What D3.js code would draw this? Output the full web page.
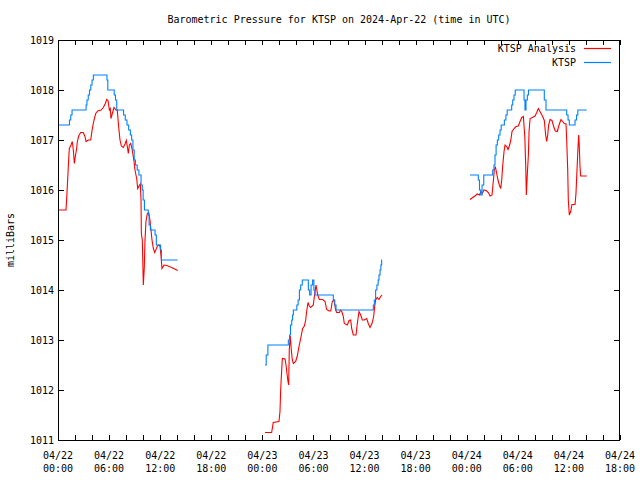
<!DOCTYPE html>
<html><head><meta charset="utf-8">
<script src="https://cdn.jsdelivr.net/npm/d3@7"></script>
<style>
html,body{margin:0;padding:0;background:#fff;}
svg text{font-family:"DejaVu Sans Mono","Liberation Mono",monospace;font-size:10px;fill:#000;}
</style></head>
<body>
<svg id="chart" width="640" height="480"></svg>
<script>
// ---------- data (hours since 2024-04-22 00:00 UTC, millibars) ----------
const titleText = "Barometric Pressure for KTSP on 2024-Apr-22 (time in UTC)";
const yLabel = "milliBars";
const seriesNames = ["KTSP Analysis", "KTSP"];
const yTicks = [1011,1012,1013,1014,1015,1016,1017,1018,1019];

const analysisSeg1 = [[0,1015.6],[0.94,1015.6],[1.02,1015.83],[1.14,1016.23],[1.25,1016.6],[1.33,1016.83],[1.53,1016.9],[1.68,1016.97],[1.8,1016.8],[1.92,1016.53],[2.03,1016.67],[2.19,1016.83],[2.27,1016.97],[2.43,1017.08],[2.66,1017.15],[2.97,1017.15],[3.17,1017.07],[3.29,1016.97],[3.56,1017.0],[3.84,1017.0],[4.03,1017.23],[4.23,1017.4],[4.43,1017.53],[4.66,1017.58],[5.05,1017.6],[5.32,1017.65],[5.56,1017.73],[5.72,1017.81],[5.87,1017.79],[6.03,1017.6],[6.14,1017.63],[6.22,1017.43],[6.38,1017.53],[6.58,1017.65],[6.81,1017.6],[6.96,1017.6],[7.12,1017.27],[7.28,1017.0],[7.44,1016.88],[7.67,1016.85],[7.87,1016.92],[8.02,1016.99],[8.14,1016.87],[8.26,1016.73],[8.38,1016.9],[8.54,1016.93],[8.69,1016.83],[8.81,1016.7],[8.93,1016.57],[9.04,1016.4],[9.24,1016.23],[9.36,1016.03],[9.51,1016.08],[9.67,1016.12],[9.75,1015.8],[9.79,1015.13],[9.9,1015.0],[10.02,1014.1],[10.13,1014.43],[10.22,1015.0],[10.33,1015.37],[10.49,1015.53],[10.65,1015.55],[10.8,1015.4],[10.92,1015.2],[11.04,1015.0],[11.2,1014.83],[11.36,1014.75],[11.51,1014.81],[11.67,1014.88],[11.86,1014.9],[11.98,1014.87],[12.1,1014.68],[12.21,1014.43],[12.45,1014.5],[12.77,1014.49],[13.35,1014.45],[14.06,1014.39]];

const analysisSeg2 = [[24.31,1011.15],[25.09,1011.15],[25.28,1011.35],[25.95,1011.37],[26.07,1011.57],[26.15,1012.0],[26.27,1012.4],[26.35,1012.63],[26.66,1012.62],[26.78,1012.5],[26.89,1012.33],[27.01,1012.17],[27.09,1012.1],[27.16,1012.8],[27.28,1013.08],[27.4,1012.8],[27.52,1012.6],[27.64,1012.53],[27.91,1012.57],[28.1,1012.68],[28.3,1012.87],[28.5,1013.03],[28.73,1013.23],[28.93,1013.28],[29.09,1013.4],[29.2,1013.57],[29.36,1013.75],[29.51,1013.68],[29.67,1013.65],[29.98,1013.7],[30.18,1013.97],[30.3,1014.1],[30.5,1013.9],[30.69,1013.81],[31.08,1013.81],[31.36,1013.77],[31.55,1013.61],[31.83,1013.58],[32.03,1013.58],[32.21,1013.77],[32.41,1013.8],[32.61,1013.6],[32.73,1013.55],[33.04,1013.55],[33.2,1013.6],[33.35,1013.56],[33.51,1013.47],[33.62,1013.33],[33.98,1013.3],[34.18,1013.39],[34.37,1013.4],[34.49,1013.23],[34.68,1013.1],[35.0,1013.1],[35.15,1013.33],[35.35,1013.57],[35.55,1013.5],[35.74,1013.4],[35.97,1013.4],[36.25,1013.43],[36.44,1013.33],[36.64,1013.25],[36.88,1013.33],[37.07,1013.47],[37.19,1013.67],[37.3,1013.8],[37.49,1013.85],[37.69,1013.81],[37.89,1013.87],[38.05,1013.9]];

const analysisSeg3 = [[48.38,1015.81],[48.7,1015.85],[48.97,1015.88],[49.24,1015.92],[49.48,1015.9],[49.68,1015.97],[49.83,1015.93],[50.03,1016.0],[50.27,1015.99],[50.54,1015.95],[50.74,1015.88],[50.97,1015.9],[51.12,1016.17],[51.24,1016.4],[51.36,1016.47],[51.52,1016.33],[51.67,1016.2],[51.83,1016.1],[51.99,1016.03],[52.11,1016.2],[52.22,1016.47],[52.38,1016.77],[52.5,1016.9],[52.7,1016.87],[52.85,1016.81],[53.01,1016.88],[53.17,1016.99],[53.32,1017.17],[53.56,1017.23],[53.79,1017.27],[54.06,1017.28],[54.26,1017.37],[54.46,1017.45],[54.65,1017.47],[54.82,1017.07],[54.93,1016.47],[55.0,1015.9],[55.12,1016.33],[55.24,1016.7],[55.32,1017.17],[55.44,1017.43],[55.7,1017.45],[56.02,1017.48],[56.22,1017.55],[56.41,1017.63],[56.6,1017.57],[56.92,1017.47],[57.11,1017.39],[57.27,1017.1],[57.39,1016.97],[57.51,1017.1],[57.62,1017.3],[57.78,1017.41],[58.01,1017.39],[58.21,1017.27],[58.4,1017.18],[58.64,1017.17],[58.84,1017.3],[59.07,1017.41],[59.27,1017.37],[59.46,1017.33],[59.66,1017.32],[59.74,1017.0],[59.86,1016.4],[59.93,1015.8],[60.05,1015.5],[60.21,1015.57],[60.36,1015.71],[60.72,1015.71],[60.83,1015.93],[60.95,1016.4],[61.07,1016.87],[61.15,1017.1],[61.22,1016.87],[61.3,1016.48],[61.38,1016.28],[62.09,1016.28]];

// observed values (step changes)
const observedSeg1 = [[0,1017.3],[1.35,1017.4],[1.5,1017.5],[1.65,1017.6],[3.3,1017.7],[3.4,1017.8],[3.55,1017.9],[3.7,1018.0],[3.85,1018.1],[4.0,1018.2],[4.15,1018.3],[5.75,1018.2],[5.85,1018.0],[6.6,1017.9],[6.75,1017.8],[6.9,1017.6],[7.7,1017.5],[7.9,1017.4],[8.1,1017.3],[8.3,1017.2],[8.5,1017.1],[8.65,1017.0],[8.8,1016.8],[8.95,1016.6],[9.1,1016.5],[9.3,1016.4],[9.5,1016.3],[9.75,1016.1],[9.9,1016.0],[10.0,1015.8],[10.15,1015.6],[10.6,1015.5],[10.7,1015.3],[10.85,1015.2],[11.4,1015.1],[11.55,1014.9],[12.05,1014.8],[12.15,1014.6],[14.05,1014.6]];

const observedSeg2 = [[24.31,1012.5],[24.45,1012.7],[24.65,1012.9],[27.05,1013.0],[27.2,1013.1],[27.3,1013.3],[27.45,1013.4],[27.55,1013.5],[27.64,1013.6],[28.05,1013.7],[28.2,1013.8],[28.35,1014.0],[28.5,1014.1],[28.69,1014.2],[29.4,1014.0],[29.55,1013.9],[29.72,1014.1],[29.9,1014.2],[30.05,1014.0],[30.18,1013.9],[32.33,1013.8],[32.5,1013.7],[32.65,1013.6],[37.03,1013.7],[37.15,1013.8],[37.3,1014.0],[37.45,1014.1],[37.6,1014.2],[37.7,1014.3],[37.82,1014.4],[37.92,1014.5],[38.01,1014.6],[38.05,1014.6]];

const observedSeg3 = [[48.38,1016.3],[49.36,1016.2],[49.5,1016.0],[49.64,1015.9],[49.8,1016.1],[50.0,1016.3],[51.05,1016.4],[51.2,1016.5],[51.32,1016.7],[51.45,1016.9],[51.6,1017.0],[51.75,1017.1],[51.91,1017.2],[52.05,1017.3],[52.42,1017.4],[52.6,1017.5],[52.75,1017.6],[53.28,1017.7],[53.4,1017.8],[53.55,1017.9],[53.7,1018.0],[54.73,1017.8],[54.84,1017.6],[54.96,1017.8],[55.12,1017.9],[55.25,1018.0],[57.11,1017.8],[57.31,1017.6],[59.74,1017.5],[59.9,1017.4],[60.05,1017.3],[60.72,1017.4],[60.9,1017.5],[61.05,1017.6],[62.09,1017.6]];

const analysisSegments = [analysisSeg1, analysisSeg2, analysisSeg3];
const observedSegments = [observedSeg1, observedSeg2, observedSeg3];

// ---------- layout ----------
const svg = d3.select("#chart");
const L = 58, R = 620, T = 40, B = 440;
const t0 = Date.UTC(2024, 3, 22, 0, 0);
const toDate = h => new Date(t0 + h * 3600e3);

const x = d3.scaleUtc().domain([toDate(0), toDate(66)]).range([L, R]);
const y = d3.scaleLinear().domain([1011, 1019]).range([B, T]);

const colors = {analysis: "#ff0000", observed: "#0080ff"};

// title
svg.append("text").attr("x", (L + R) / 2).attr("y", 23).attr("text-anchor", "middle").text(titleText);
// y label
svg.append("text").attr("transform", `translate(14,${(T + B) / 2}) rotate(-90)`)
  .attr("text-anchor", "middle").text(yLabel);

// ticks
const xTickDates = d3.range(0, 67, 2).map(toDate);
const xLabelDates = d3.range(0, 67, 6).map(toDate);
const tickLen = 5;
const g = svg.append("g").attr("shape-rendering", "crispEdges").attr("stroke", "#000").attr("stroke-width", 1);
xTickDates.forEach(d => {
  const px = Math.round(x(d)) + 0.5;
  g.append("line").attr("x1", px).attr("x2", px).attr("y1", B).attr("y2", B - tickLen);
  g.append("line").attr("x1", px).attr("x2", px).attr("y1", T).attr("y2", T + tickLen);
});
yTicks.forEach(v => {
  const py = Math.round(y(v)) + 0.5;
  g.append("line").attr("x1", L).attr("x2", L + tickLen + 1).attr("y1", py).attr("y2", py);
  g.append("line").attr("x1", R).attr("x2", R - tickLen - 1).attr("y1", py).attr("y2", py);
});

// tick labels
const fmtDay = d3.utcFormat("%m/%d"), fmtHour = d3.utcFormat("%H:%M");
yTicks.forEach(v => {
  svg.append("text").attr("x", L - 4).attr("y", y(v) + 4).attr("text-anchor", "end").text(v);
});
xLabelDates.forEach(d => {
  const t = svg.append("text").attr("x", x(d)).attr("text-anchor", "middle");
  t.append("tspan").attr("x", x(d)).attr("y", 459).text(fmtDay(d));
  t.append("tspan").attr("x", x(d)).attr("y", 472).text(fmtHour(d));
});

// lines
const lineA = d3.line().x(d => x(toDate(d[0]))).y(d => y(d[1]));
const lineO = d3.line().x(d => x(toDate(d[0]))).y(d => y(d[1])).curve(d3.curveStepAfter);
svg.append("clipPath").attr("id", "clip").append("rect").attr("x", L).attr("y", T).attr("width", R - L).attr("height", B - T);
const plot = svg.append("g").attr("clip-path", "url(#clip)");
analysisSegments.forEach(s => plot.append("path").attr("d", lineA(s)).attr("fill", "none")
  .attr("stroke", colors.analysis).attr("stroke-width", 1.1));
observedSegments.forEach(s => plot.append("path").attr("d", lineO(s)).attr("fill", "none")
  .attr("stroke", colors.observed).attr("stroke-width", 1.1));

// border
svg.append("rect").attr("x", L + 0.5).attr("y", T + 0.5).attr("width", R - L - 1).attr("height", B - T)
  .attr("fill", "none").attr("stroke", "#000").attr("shape-rendering", "crispEdges");

// legend
const legendRows = [{name: seriesNames[0], color: colors.analysis}, {name: seriesNames[1], color: colors.observed}];
legendRows.forEach((r, i) => {
  const ly = 48.5 + i * 14;
  svg.append("text").attr("x", 576).attr("y", ly + 3.5).attr("text-anchor", "end").text(r.name);
  svg.append("line").attr("x1", 584).attr("x2", 611).attr("y1", ly).attr("y2", ly)
    .style("stroke", r.color).style("stroke-width", "1.2px");
});
</script>
</body></html>
